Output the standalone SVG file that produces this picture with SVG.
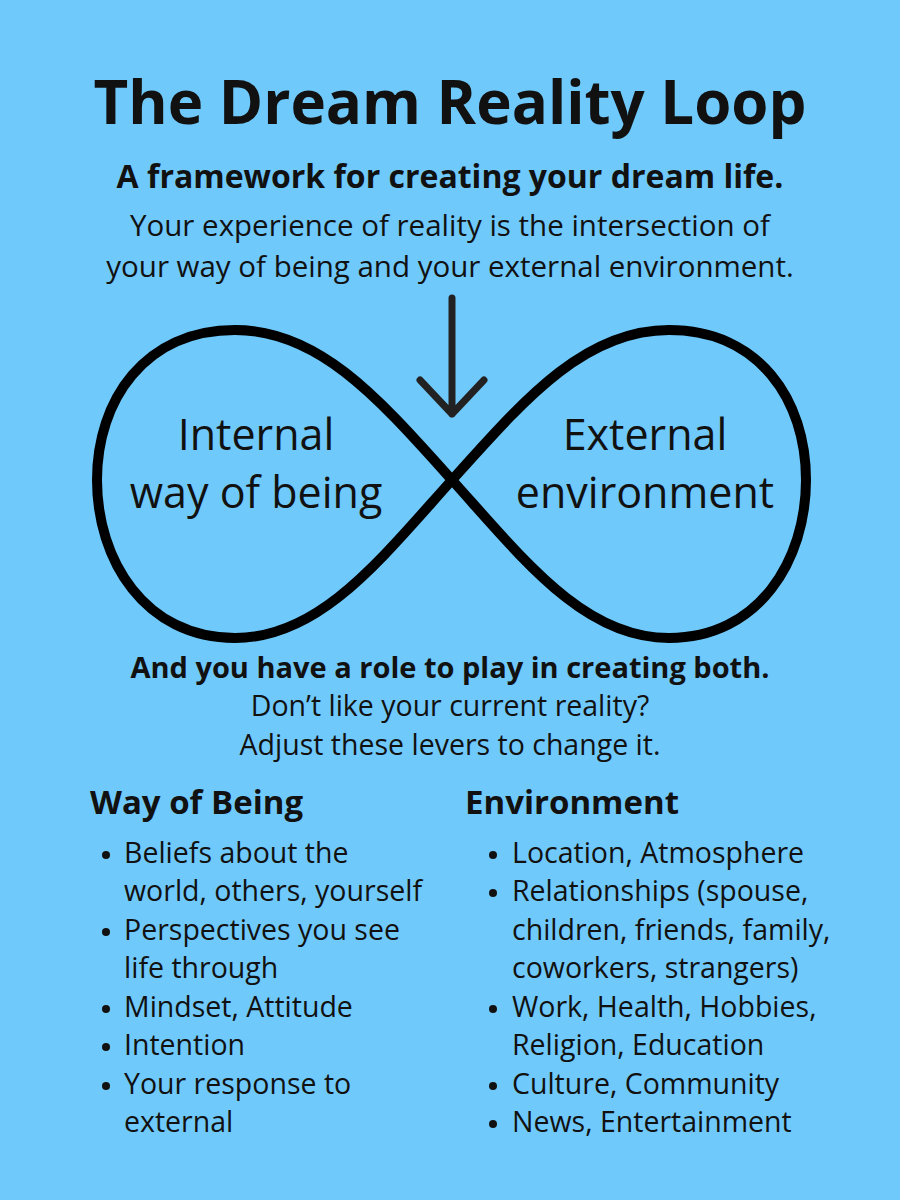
<svg xmlns="http://www.w3.org/2000/svg" width="900" height="1200" viewBox="0 0 900 1200">
<style>
text{font-family:"Open Sans","Noto Sans",sans-serif;fill:#111}
.c{text-anchor:middle}
.b{font-weight:bold}
.t{font-size:29.5px}
.l{font-size:28.5px}
.big{font-size:43px}
</style>
<rect width="900" height="1200" fill="#70C9FB"/>
<g id="title"><text class="c b" x="450" y="124" font-size="60">The Dream Reality Loop</text>
<text class="c b" x="450" y="188" font-size="32">A framework for creating your dream life.</text>
<text class="c t" x="450" y="236">Your experience of reality is the intersection of</text>
<text class="c t" x="450" y="277">your way of being and your external environment.</text></g>
<g id="connectors" fill="none">
<path d="M452,480 C380,400 320,330 235,330 C145,330 97,400 97,480 C97,560 145,638 235,638 C320,638 380,560 452,480 C524,400 584,330 669,330 C759,330 806,400 806,480 C806,560 759,638 669,638 C584,638 524,560 452,480 Z" stroke="#000" stroke-width="10"/>
<path d="M452,298 V414 M420,380 L452,414 L484,380" stroke="#222" stroke-width="7" stroke-linecap="round" stroke-linejoin="round"/>
</g>
<g id="internal"><text class="c big" x="256" y="450">Internal</text><text class="c big" x="256" y="508">way of being</text></g>
<g id="external"><text class="c big" x="645" y="450">External</text><text class="c big" x="645" y="508">environment</text></g>
<g id="role"><text class="c b" x="450" y="678" font-size="29">And you have a role to play in creating both.</text>
<text class="c l" x="450" y="716">Don’t like your current reality?</text>
<text class="c l" x="450" y="755">Adjust these levers to change it.</text></g>
<g id="way">
<text class="b" x="90" y="814" font-size="33">Way of Being</text>
<text class="l" x="124" y="863">Beliefs about the</text>
<text class="l" x="124" y="901">world, others, yourself</text>
<text class="l" x="124" y="940">Perspectives you see</text>
<text class="l" x="124" y="978">life through</text>
<text class="l" x="124" y="1017">Mindset, Attitude</text>
<text class="l" x="124" y="1055">Intention</text>
<text class="l" x="124" y="1094">Your response to</text>
<text class="l" x="124" y="1132">external</text>
<g fill="#111"><circle cx="106" cy="855" r="4"/><circle cx="106" cy="932" r="4"/><circle cx="106" cy="1009" r="4"/><circle cx="106" cy="1047" r="4"/><circle cx="106" cy="1086" r="4"/></g>
</g>
<g id="env">
<text class="b" x="465" y="814" font-size="33">Environment</text>
<text class="l" x="512" y="863">Location, Atmosphere</text>
<text class="l" x="512" y="901">Relationships (spouse,</text>
<text class="l" x="512" y="940">children, friends, family,</text>
<text class="l" x="512" y="978">coworkers, strangers)</text>
<text class="l" x="512" y="1017">Work, Health, Hobbies,</text>
<text class="l" x="512" y="1055">Religion, Education</text>
<text class="l" x="512" y="1094">Culture, Community</text>
<text class="l" x="512" y="1132">News, Entertainment</text>
<g fill="#111"><circle cx="493" cy="855" r="4"/><circle cx="493" cy="893" r="4"/><circle cx="493" cy="1009" r="4"/><circle cx="493" cy="1086" r="4"/><circle cx="493" cy="1124" r="4"/></g>
</g>
</svg>
